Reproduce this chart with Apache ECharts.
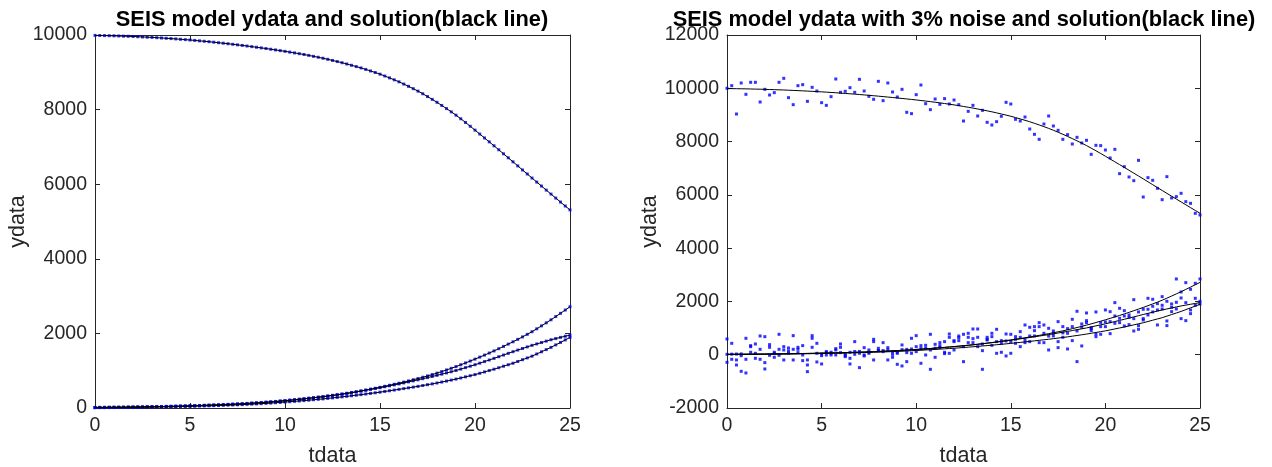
<!DOCTYPE html>
<html>
<head>
<meta charset="utf-8">
<script src="https://cdn.jsdelivr.net/npm/echarts@6/dist/echarts.min.js"></script>
<style>
  html, body { margin: 0; padding: 0; background: #ffffff; }
  #chart { width: 1272px; height: 467px; }
</style>
</head>
<body>
<div id="chart"></div>
<script>
// Sampling times
const tdata = [
  0, 0.25, 0.5, 0.75, 1, 1.25, 1.5, 1.75, 2, 2.25, 2.5, 2.75, 3, 3.25, 3.5, 3.75,
  4, 4.25, 4.5, 4.75, 5, 5.25, 5.5, 5.75, 6, 6.25, 6.5, 6.75, 7, 7.25, 7.5, 7.75,
  8, 8.25, 8.5, 8.75, 9, 9.25, 9.5, 9.75, 10, 10.25, 10.5, 10.75, 11, 11.25, 11.5, 11.75,
  12, 12.25, 12.5, 12.75, 13, 13.25, 13.5, 13.75, 14, 14.25, 14.5, 14.75, 15, 15.25, 15.5, 15.75,
  16, 16.25, 16.5, 16.75, 17, 17.25, 17.5, 17.75, 18, 18.25, 18.5, 18.75, 19, 19.25, 19.5, 19.75,
  20, 20.25, 20.5, 20.75, 21, 21.25, 21.5, 21.75, 22, 22.25, 22.5, 22.75, 23, 23.25, 23.5, 23.75,
  24, 24.25, 24.5, 24.75, 25
];

// Model solution, compartment S
const solS = [
  9990, 9987, 9984, 9981, 9978, 9974, 9969, 9965, 9960, 9954, 9948, 9942, 9936, 9928, 9920, 9912,
  9904, 9895, 9885, 9876, 9866, 9855, 9843, 9832, 9820, 9807, 9793, 9780, 9766, 9751, 9736, 9721,
  9705, 9688, 9671, 9654, 9637, 9618, 9600, 9581, 9562, 9541, 9520, 9499, 9477, 9453, 9428, 9403,
  9377, 9348, 9318, 9288, 9257, 9223, 9188, 9153, 9117, 9077, 9036, 8994, 8950, 8901, 8850, 8798,
  8745, 8685, 8624, 8561, 8495, 8425, 8350, 8274, 8195, 8112, 8027, 7940, 7850, 7754, 7655, 7553,
  7450, 7345, 7240, 7135, 7030, 6923, 6815, 6708, 6600, 6491, 6382, 6274, 6165, 6057, 5950, 5842,
  5735, 5628, 5521, 5415, 5310
];

// Model solution, compartment E
const solE = [
  15, 16, 17, 19, 20, 21, 23, 24, 26, 28, 30, 32, 34, 37, 39, 42,
  45, 48, 51, 55, 58, 62, 66, 70, 74, 79, 84, 89, 94, 100, 106, 112,
  119, 127, 135, 143, 152, 162, 173, 184, 195, 207, 219, 232, 245, 259, 273, 287,
  302, 318, 335, 352, 370, 390, 411, 433, 455, 479, 504, 529, 555, 582, 609, 637,
  665, 695, 726, 758, 790, 825, 860, 897, 935, 977, 1020, 1064, 1110, 1159, 1208, 1259,
  1310, 1364, 1418, 1474, 1530, 1590, 1651, 1713, 1775, 1840, 1906, 1975, 2045, 2123, 2202, 2283,
  2365, 2451, 2538, 2626, 2715
];

// Model solution, compartment I
const solI = [
  15, 16, 17, 19, 20, 21, 23, 24, 26, 28, 30, 32, 34, 37, 39, 42,
  45, 48, 52, 55, 59, 63, 67, 72, 76, 81, 86, 91, 97, 103, 110, 116,
  123, 131, 139, 147, 156, 166, 176, 187, 198, 210, 223, 235, 248, 262, 277, 291,
  306, 323, 340, 357, 374, 394, 414, 434, 455, 477, 500, 522, 545, 570, 595, 620,
  645, 672, 700, 727, 755, 785, 815, 845, 875, 907, 940, 972, 1005, 1043, 1082, 1121,
  1160, 1202, 1245, 1287, 1330, 1375, 1420, 1465, 1510, 1553, 1595, 1638, 1680, 1718, 1755, 1793,
  1830, 1862, 1893, 1924, 1955
];

// Model solution, compartment R
const solR = [
  8, 9, 10, 11, 12, 13, 14, 16, 17, 19, 20, 22, 24, 26, 28, 31,
  33, 36, 39, 42, 45, 48, 52, 55, 59, 63, 67, 72, 76, 81, 86, 91,
  97, 104, 110, 117, 124, 132, 141, 149, 158, 168, 178, 188, 198, 209, 221, 232,
  244, 257, 271, 284, 298, 313, 328, 343, 358, 375, 391, 408, 425, 444, 462, 481,
  500, 520, 540, 560, 580, 602, 625, 647, 670, 696, 722, 748, 775, 805, 835, 865,
  895, 931, 967, 1004, 1040, 1080, 1120, 1160, 1200, 1247, 1295, 1342, 1390, 1448, 1507, 1566,
  1625, 1692, 1758, 1825, 1892
];

// Measurements with 3% noise
const noisyS = [
  10000, 10098, 9035, 10199, 9773, 10224, 10224, 9485, 9961, 9748, 9836, 10224, 10374, 9648, 9385, 10098,
  10136, 9510, 10036, 9898, 9460, 9360, 9686, 10349, 9848, 9886, 10023, 9848, 10336, 9898, 9698, 9586,
  10261, 9536, 10199, 9861, 9673, 9961, 9098, 9048, 9761, 10123, 9423, 9198, 9598, 9398, 9611, 9410,
  9560, 9385, 8772, 9135, 9360, 8960, 9173, 8722, 8622, 8747, 8948, 9473, 9410, 8835, 8772, 8922,
  8472, 8272, 8084, 8660, 8960, 8585, 8422, 8084, 8260, 7909, 8159, 7947, 8047, 7521, 7859, 7847,
  7684, 7384, 7709, 6796, 7058, 6671, 6533, 7296, 5920, 6646, 6546, 6245, 5820, 6683, 5883, 5933,
  6058, 5745, 5682, 5307, 5245
];

const noisyE = [
  591, 428, -197, -623, 616, 303, 403, 703, 678, 378, 91, 766, 303, 253, 716, 203,
  341, -197, 716, 428, 28, 116, -10, 228, 403, 28, -135, 491, 53, -47, 178, 578,
  241, 453, 266, 116, 53, 366, 78, 616, 716, 341, 353, 766, 391, 341, 491, 778,
  528, 703, 766, 804, 966, 966, 403, 653, 678, 954, 428, 778, 766, 678, 866, 1116,
  1029, 1054, 1204, 1116, 991, 891, 1242, 1054, 979, 1329, 1630, 1154, 1567, 1016, 1605, 1204,
  1680, 1617, 1955, 1742, 1654, 1492, 2067, 1605, 1705, 2117, 2080, 1917, 2180, 2005, 1905, 2843,
  2355, 2705, 2455, 2681, 2843
];

const noisyI = [
  -285, -172, -385, -35, -685, 341, -135, 203, -297, 278, -97, 203, 178, 141, 203, 278,
  -222, -385, 616, 53, -347, -10, 53, 178, 278, -72, -347, 15, -485, -10, 53, 491,
  153, 116, 178, 15, -360, -422, -260, 216, 303, -322, -10, 178, -97, 453, 91, 653,
  178, 641, 303, 653, 453, 303, -548, 578, 353, 491, 91, -47, 491, 428, 653, 553,
  703, 904, 1054, 804, 178, 704, 491, 654, 216, 529, -259, 1029, 1279, 904, 779, 1054,
  1229, 1242, 1454, 1367, 1079, 1404, 1354, 1092, 1354, 1705, 1817, 1680, 1855, 1267, 1779, 1967,
  2130, 1955, 1680, 2117, 2005
];

const noisyR = [
  15, 20, 25, 30, -172, 91, 53, -172, -535, -22, 55, -22, -197, 60, -197, 78,
  -10, -635, 278, -272, -35, 90, 95, -10, 78, -35, 91, 120, 125, 266, 91, -197,
  150, 155, -197, -97, 91, 190, 200, 53, 116, 230, 240, -548, 241, 270, 41, 53,
  491, 528, -260, 453, 603, 653, 153, 553, 804, 53, 528, 516, 53, 578, 303, 453,
  491, 703, 453, 453, 700, 804, 266, 820, 804, 1054, 891, 329, 1204, 979, 679, 766,
  1054, 791, 1179, 1204, 1454, 1129, 891, 954, 1304, 1492, 1605, 1117, 1717, 1092, 1617, 1717,
  1354, 1279, 1542, 1855, 1905
];

const titleLeft = 'SEIS model ydata and solution(black line)';
const titleRight = 'SEIS model ydata with 3% noise and solution(black line)';
const xName = 'tdata';
const yName = 'ydata';

const FONT = '"Liberation Sans", Arial, Helvetica, sans-serif';
const AX = '#262626';
const BLUE = '#0000ff';

const pairs = ys => tdata.map((t, i) => [t, ys[i]]);
const plain = v => String(v);

function xAx(gridIndex, position, main) {
  return {
    type: 'value', gridIndex, position, min: 0, max: 25, interval: 5,
    axisLine: { show: true, onZero: false, lineStyle: { color: AX, width: 1 } },
    axisTick: { show: true, inside: true, length: 5, lineStyle: { color: AX } },
    axisLabel: { show: main, color: AX, fontSize: 19.5, fontFamily: FONT, margin: 8, formatter: plain },
    splitLine: { show: false },
    name: main ? xName : '', nameLocation: 'middle', nameGap: 37,
    nameTextStyle: { color: AX, fontSize: 21.5, fontFamily: FONT }
  };
}

function yAx(gridIndex, position, main, min, max) {
  return {
    type: 'value', gridIndex, position, min, max, interval: 2000,
    axisLine: { show: true, onZero: false, lineStyle: { color: AX, width: 1 } },
    axisTick: { show: true, inside: true, length: 5, lineStyle: { color: AX } },
    axisLabel: { show: main, color: AX, fontSize: 19.5, fontFamily: FONT, margin: 8, formatter: plain },
    splitLine: { show: false },
    name: main ? yName : '', nameLocation: 'middle', nameGap: 60,
    nameTextStyle: { color: AX, fontSize: 21.5, fontFamily: FONT }
  };
}

function dots(ys, xi, yi) {
  return {
    type: 'scatter', xAxisIndex: xi, yAxisIndex: yi, data: pairs(ys),
    symbol: 'rect', symbolSize: 3, itemStyle: { color: BLUE }, silent: true, z: 2
  };
}

function curve(ys, xi, yi) {
  return {
    type: 'line', xAxisIndex: xi, yAxisIndex: yi, data: pairs(ys),
    showSymbol: false, symbol: 'none', lineStyle: { color: '#000000', width: 1 },
    silent: true, z: 3
  };
}

const chart = echarts.init(document.getElementById('chart'), null, { renderer: 'canvas' });
chart.setOption({
  animation: false,
  backgroundColor: '#ffffff',
  title: [
    { text: titleLeft, left: 332, top: 9, textAlign: 'center', padding: 0,
      textStyle: { color: '#000', fontSize: 21.8, fontWeight: 'bold', fontFamily: FONT } },
    { text: titleRight, left: 964, top: 9, textAlign: 'center', padding: 0,
      textStyle: { color: '#000', fontSize: 21.8, fontWeight: 'bold', fontFamily: FONT } }
  ],
  grid: [
    { left: 95, top: 35, width: 475, height: 373, containLabel: false, outerBoundsMode: 'none' },
    { left: 727, top: 35, width: 473, height: 373, containLabel: false, outerBoundsMode: 'none' }
  ],
  xAxis: [
    xAx(0, 'bottom', true), xAx(0, 'top', false),
    xAx(1, 'bottom', true), xAx(1, 'top', false)
  ],
  yAxis: [
    yAx(0, 'left', true, 0, 10000), yAx(0, 'right', false, 0, 10000),
    yAx(1, 'left', true, -2000, 12000), yAx(1, 'right', false, -2000, 12000)
  ],
  series: [
    // ydata with the fitted solution drawn over it
    dots(solS, 0, 0), dots(solE, 0, 0), dots(solI, 0, 0), dots(solR, 0, 0),
    curve(solS, 0, 0), curve(solE, 0, 0), curve(solI, 0, 0), curve(solR, 0, 0),
    // noisy ydata with the same solution
    dots(noisyS, 2, 2), dots(noisyE, 2, 2), dots(noisyI, 2, 2), dots(noisyR, 2, 2),
    curve(solS, 2, 2), curve(solE, 2, 2), curve(solI, 2, 2), curve(solR, 2, 2)
  ]
});
</script>
</body>
</html>
